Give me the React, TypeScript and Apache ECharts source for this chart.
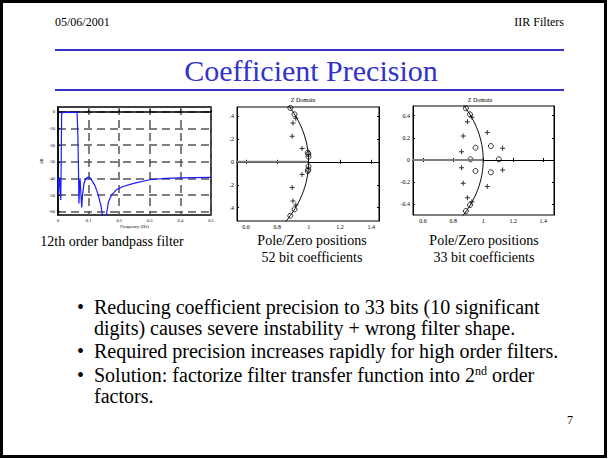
import React, { useEffect, useRef } from "react";
import * as echarts from "echarts";

// ---- Frequency response (12th order bandpass) ----
const freqHz = [0, 0.002, 0.004, 0.0055, 0.0075, 0.009, 0.0105, 0.0115, 0.012, 0.0125, 0.015, 0.018, 0.022, 0.027, 0.032, 0.037, 0.042, 0.047, 0.052, 0.056, 0.06, 0.062, 0.063, 0.065, 0.067, 0.0685, 0.0705, 0.072, 0.0745, 0.0775, 0.08, 0.085, 0.09, 0.095, 0.1, 0.105, 0.11, 0.12, 0.13, 0.14, 0.145, 0.148, 0.155, 0.158, 0.165, 0.175, 0.19, 0.21, 0.25, 0.3, 0.35, 0.4, 0.45, 0.5];
const magDb = [-39.5, -50, -41, -39.5, -46, -53, -30, -8, -1, 0, -0.6, 0, -0.5, 0, -0.5, 0, -0.5, 0, -0.5, 0, -0.4, 0, -3, -15, -35, -55, -45, -40, -48, -57.5, -50, -43, -40.5, -39.5, -39.2, -39.6, -41, -44, -49, -56, -62, -75, -75, -62, -54, -50, -47, -45, -42.8, -40.8, -40, -39.7, -39.5, -39.4];
const dbTicks = [0, -10, -20, -30, -40, -50, -60];

// ---- Pole / zero positions ----
const zTicksX = [0.6, 0.8, 1, 1.2, 1.4];
const zTicksY = [-0.4, -0.2, 0, 0.2, 0.4];
const zeros52 = [[0.883, 0.47], [0.91, 0.414], [0.995, 0.08], [0.998, 0.068], [0.999, 0.045], [0.999, -0.04], [0.998, -0.068], [0.995, -0.08], [0.91, -0.414], [0.883, -0.47]];
const poles52 = [[0.918, 0.38], [0.9, 0.339], [0.895, 0.223], [0.958, 0.116], [0.958, -0.11], [0.895, -0.223], [0.9, -0.342], [0.918, -0.377]];
const zeros33 = [[0.885, 0.466], [0.912, 0.412], [0.949, 0.111], [1.051, 0.126], [1.104, 0.006], [0.916, 0.006], [0.949, -0.099], [1.051, -0.111], [0.912, -0.406], [0.885, -0.46]];
const poles33 = [[0.925, 0.386], [0.895, 0.346], [0.867, 0.217], [0.856, 0.075], [1.027, 0.247], [1.129, 0.105], [0.856, -0.069], [1.129, -0.09], [0.867, -0.21], [1.027, -0.24], [0.895, -0.34], [0.925, -0.376]];

// ---- Slide text ----
const headerLeft = "05/06/2001";
const headerRight = "IIR Filters";
const slideTitle = "Coefficient Precision";
const captions = ["12th order bandpass filter", "Pole/Zero positions\n52 bit coefficients", "Pole/Zero positions\n33 bit coefficients"];
const pageNo = "7";

const SERIF = "Liberation Serif";
const PLUS = "path://M4,0H6V4H10V6H6V10H4V6H0V4H4Z";

export default function App() {
  const ref = useRef<HTMLDivElement>(null);
  useEffect(() => {
    const chart = echarts.init(ref.current!, null, { renderer: "svg" });

    const respData = freqHz.map((f, i) => [f, magDb[i]]);
    const circle: number[][] = [];
    for (let a = -40; a <= 40; a += 1) {
      const r = (a * Math.PI) / 180;
      circle.push([Math.cos(r), Math.sin(r)]);
    }

    const zRange2 = { xmin: 0.543, xmax: 1.449, ymin: -0.516, ymax: 0.478 };
    const zRange3 = { xmin: 0.533, xmax: 1.471, ymin: -0.496, ymax: 0.487 };

    const tickLbl = { fontFamily: SERIF, fontSize: 6, color: "#000" };
    const zx = (grid: number, r: any, pos: string, show: boolean, fmt?: any) => ({
      type: "value", gridIndex: grid, position: pos, min: r.xmin, max: r.xmax,
      axisLine: { show: true, lineStyle: { color: "#000", width: 1 } },
      axisTick: { show: true, inside: true, length: 2, customValues: zTicksX, lineStyle: { color: "#000" } },
      axisLabel: { show, customValues: zTicksX, margin: 3, ...tickLbl, formatter: fmt },
      splitLine: { show: false },
    });
    const zy = (grid: number, r: any, pos: string, show: boolean, fmt?: any) => ({
      type: "value", gridIndex: grid, position: pos, min: r.ymin, max: r.ymax,
      axisLine: { show: true, lineStyle: { color: "#000", width: 1 } },
      axisTick: { show: true, inside: true, length: 2, customValues: zTicksY, lineStyle: { color: "#000" } },
      axisLabel: { show, customValues: zTicksY, margin: 3, ...tickLbl, formatter: fmt },
      splitLine: { show: false },
    });
    const fmtX = (v: number) => String(Math.round(v * 10) / 10);
    const fmtY2 = (v: number) => (Math.abs(v) < 1e-9 ? "0" : "." + Math.round(Math.abs(v) * 10));
    const fmtY3 = (v: number) => (Math.abs(v) < 1e-9 ? "0" : String(Math.round(v * 10) / 10));

    const zSeries = (xi: number, yi: number, r: any, zeros: number[][], poles: number[][]) => [
      { type: "line", xAxisIndex: xi, yAxisIndex: yi, data: [[r.xmin, 0], [1, 0]], showSymbol: false, lineStyle: { color: "#7f7f7f", width: 2 }, silent: true },
      { type: "line", xAxisIndex: xi, yAxisIndex: yi, data: circle, showSymbol: false, smooth: false, lineStyle: { color: "#000", width: 1 }, silent: true },
      { type: "scatter", xAxisIndex: xi, yAxisIndex: yi, data: zeros, symbol: "circle", symbolSize: 5, itemStyle: { color: "rgba(0,0,0,0)", borderColor: "#000", borderWidth: 1 }, silent: true },
      { type: "scatter", xAxisIndex: xi, yAxisIndex: yi, data: poles, symbol: PLUS, symbolSize: 5, itemStyle: { color: "#000" }, silent: true },
    ];

    const text = (x: number, y: number, t: string, size: number, opts: any = {}) => ({
      type: "text", x, y, silent: true,
      style: { text: t, fontFamily: SERIF, fontSize: size, fill: "#000", align: "left", verticalAlign: "middle", ...opts },
    });

    const BX = 77;
    const TX = 94;

    const option: any = {
      animation: false,
      backgroundColor: "#fff",
      textStyle: { fontFamily: SERIF },
      grid: [
        { left: 58, top: 107, width: 153, height: 108, show: true, borderColor: "#000", borderWidth: 1.5, containLabel: false },
        { left: 237, top: 107, width: 142, height: 114, show: true, borderColor: "#000", borderWidth: 1, containLabel: false },
        { left: 413, top: 106, width: 141, height: 109, show: true, borderColor: "#000", borderWidth: 1, containLabel: false },
      ],
      xAxis: [
        {
          type: "value", gridIndex: 0, min: 0, max: 0.5, interval: 0.1,
          name: "Frequency (Hz)", nameLocation: "middle", nameGap: 9, nameTextStyle: { fontFamily: SERIF, fontSize: 4.5, color: "#000" },
          axisLine: { show: true, lineStyle: { color: "#000", width: 1.5 } },
          axisTick: { show: true, inside: true, length: 2, lineStyle: { color: "#000" } },
          axisLabel: { fontFamily: SERIF, fontSize: 4.5, color: "#000", margin: 3, formatter: (v: number) => String(Math.round(v * 10) / 10) },
          splitLine: { show: true, lineStyle: { color: "#555", width: 1.5, type: [8, 5] } },
        },
        zx(1, zRange2, "bottom", true, fmtX),
        zx(1, zRange2, "top", false),
        zx(2, zRange3, "bottom", true, fmtX),
        zx(2, zRange3, "top", false),
      ],
      yAxis: [
        {
          type: "value", gridIndex: 0, min: -62, max: 3,
          name: "dB", nameLocation: "middle", nameGap: 14, nameRotate: 90, nameTextStyle: { fontFamily: SERIF, fontSize: 4.5, color: "#000" },
          axisLine: { show: true, lineStyle: { color: "#000", width: 1.5 } },
          axisTick: { show: true, inside: true, length: 2, customValues: dbTicks, lineStyle: { color: "#000" } },
          axisLabel: { customValues: dbTicks, fontFamily: SERIF, fontSize: 4.5, color: "#000", margin: 3 },
          splitLine: { show: true, lineStyle: { color: "#555", width: 1.5, type: [8, 5] } },
        },
        zy(1, zRange2, "left", true, fmtY2),
        zy(1, zRange2, "right", false),
        zy(2, zRange3, "left", true, fmtY3),
        zy(2, zRange3, "right", false),
      ],
      series: [
        { type: "line", xAxisIndex: 0, yAxisIndex: 0, data: respData, showSymbol: false, lineStyle: { color: "#1a1aff", width: 1.2 }, silent: true },
        ...zSeries(1, 1, zRange2, zeros52, poles52),
        ...zSeries(3, 3, zRange3, zeros33, poles33),
      ],
      graphic: [
        { type: "rect", silent: true, shape: { x: 1.5, y: 1.5, width: 604, height: 455 }, style: { fill: "none", stroke: "#000", lineWidth: 3 } },
        text(55, 22, headerLeft, 12),
        text(564, 22, headerRight, 12, { align: "right" }),
        { type: "line", silent: true, shape: { x1: 55, y1: 50, x2: 564, y2: 50 }, style: { stroke: "#3333cc", lineWidth: 2 } },
        { type: "line", silent: true, shape: { x1: 55, y1: 90, x2: 564, y2: 90 }, style: { stroke: "#3333cc", lineWidth: 2 } },
        text(311, 70, slideTitle, 30, { align: "center", fill: "#3333cc" }),
        text(303, 100, "Z Domain", 6, { align: "center" }),
        text(480, 100, "Z Domain", 6, { align: "center" }),
        text(112, 241, captions[0], 14, { align: "center" }),
        text(312, 249, captions[1], 14, { align: "center", lineHeight: 17 }),
        text(484, 249, captions[2], 14, { align: "center", lineHeight: 17 }),
        text(BX, 307, "\u2022", 20),
        text(TX, 307, "Reducing coefficient precision to 33 bits (10 significant", 20),
        text(TX, 328, "digits) causes severe instability + wrong filter shape.", 20),
        text(BX, 351, "\u2022", 20),
        text(TX, 351, "Required precision increases rapidly for high order filters.", 20),
        text(BX, 375, "\u2022", 20),
        {
          type: "text", x: TX, y: 375, silent: true,
          style: {
            text: "{a|Solution: factorize filter transfer function into 2}{s|nd}{a| order}",
            fontFamily: SERIF, fontSize: 20,
            verticalAlign: "middle", align: "left",
            rich: {
              a: { fontFamily: SERIF, fontSize: 20, fill: "#000" },
              s: { fontFamily: SERIF, fontSize: 12, fill: "#000", verticalAlign: "top" },
            },
          },
        },
        text(TX, 396, "factors.", 20),
        text(567, 420, pageNo, 12),
      ],
    };
    chart.setOption(option);
    return () => chart.dispose();
  }, []);
  return <div ref={ref} style={{ position: "fixed", left: 0, top: 0, width: 608, height: 459, background: "#fff" }} />;
}
